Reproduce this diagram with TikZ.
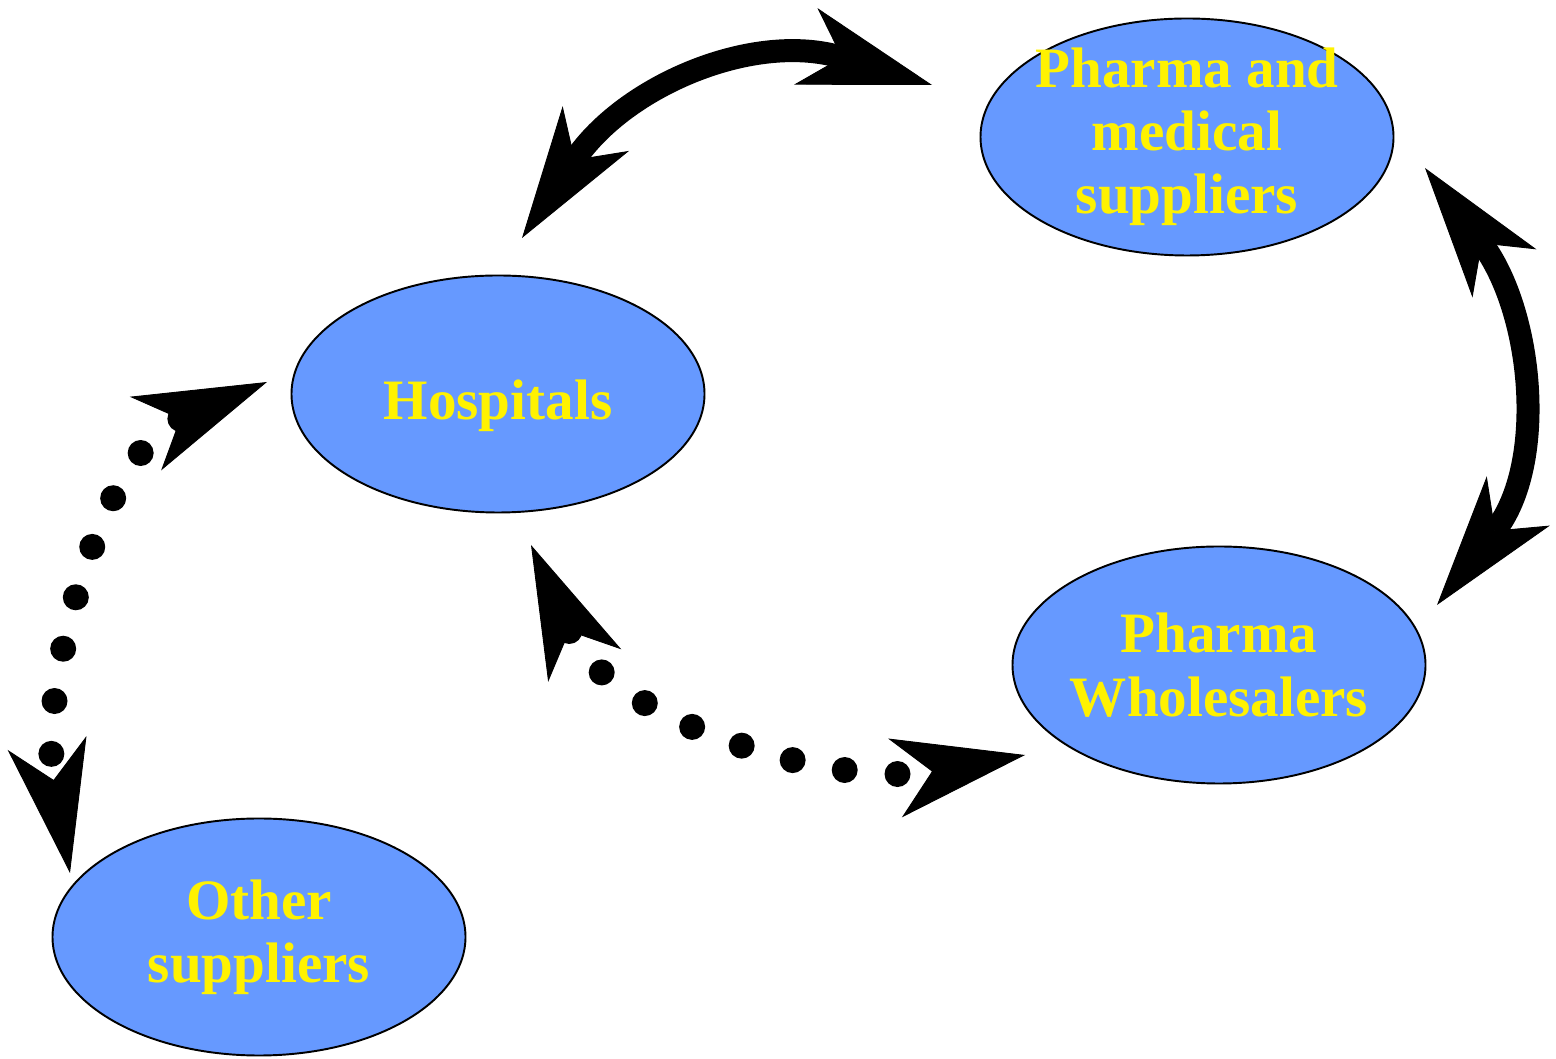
\documentclass[tikz,border=0pt]{standalone}
\usepackage{fontspec}
\setmainfont{Liberation Serif}
\usetikzlibrary{arrows.meta,shapes.geometric}
\definecolor{nodeblue}{RGB}{102,153,255}

\begin{document}
\begin{tikzpicture}[
  party/.style = {ellipse, draw, line width = 1.1pt, fill = nodeblue, text = yellow,
    font = \bfseries\fontsize{32.5}{36}\selectfont, align = center,
    inner xsep = -0.3cm, inner ysep = -0.3cm,
    minimum width = 8.26cm, minimum height = 4.74cm},
  >={Stealth[length = 2.64cm, width = 1.6cm, inset = 0.75cm, line width = 0.5pt]},
  supply/.style = {line width = 0.46cm, <->},
  dotsupply/.style = {line width = 0.52cm, line cap = round, dash pattern = on 0pt off 1.06cm, <->}
]
\useasboundingbox (0,0) rectangle (31.12,21.16);

\node[party] (v1) at (23.74,18.42) {Pharma and\\medical\\suppliers};
\node[party] (v2) at (9.96,13.28) {\raisebox{0pt}[1.04cm][0pt]{Hospitals}};
\node[party] (v3) at (24.38,7.86) {Pharma\\Wholesalers};
\node[party] (v4) at (5.18,2.42) {Other\\suppliers};

% arrow tips, a little off the ellipses
\coordinate (c1) at (10.44,16.40);
\coordinate (c2) at (18.64,19.46);
\coordinate (c3) at (28.50,17.80);
\coordinate (c4) at (28.74,9.06);
\coordinate (c5) at (10.62,10.26);
\coordinate (c6) at (20.50,6.06);
\coordinate (c7) at (5.34,13.52);
\coordinate (c8) at (1.40,3.70);

\draw [supply] (c1) to[out = 56, in = 163, looseness = 1.08] (c2);
\draw [supply] (c3) to[out = -53, in = 52, looseness = 1.05] (c4);
\draw [dotsupply] (c5) to[out = -66, in = 190, looseness = 0.92] (c6);
\draw [dotsupply] (c7) to[out = 203, in = 100, looseness = 0.88] (c8);
\end{tikzpicture}
\end{document}
